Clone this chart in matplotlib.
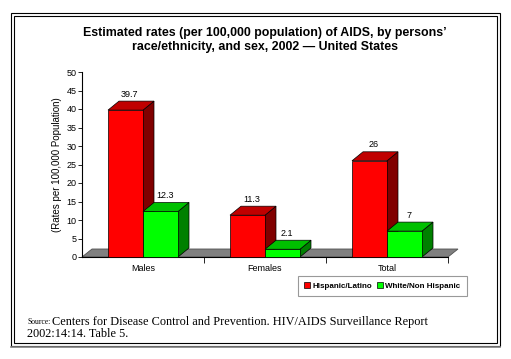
import matplotlib.pyplot as plt
from matplotlib.patches import Polygon, Rectangle
from matplotlib.lines import Line2D

# ── data ──────────────────────────────────────────────────────────────────────
categories = ["Males", "Females", "Total"]
hispanic   = [39.7, 11.3, 26]
white      = [12.3, 2.1, 7]
series     = ["Hispanic/Latino", "White/Non Hispanic"]

TITLE = ("Estimated rates (per 100,000 population) of AIDS, by persons\u2019\n"
         "race/ethnicity, and sex, 2002 \u2014 United States")
YLABEL = "(Rates per 100,000 Population)"

# ── styling ───────────────────────────────────────────────────────────────────
FRONT = ["#FF0000", "#00FF00"]
TOP   = ["#C00000", "#00C000"]
SIDE  = ["#800000", "#008000"]
FLOOR = "#808080"
BAR_W = 35 / 122          # bar width in category units
DX, DY = 11 / 122, 9 / 3.7  # 3-D depth offset (category units, value units)
FDX, FDY = 10 / 122, 8 / 3.7

plt.rcParams["font.family"] = ["Liberation Sans", "DejaVu Sans"]

W, H = 511, 359
fig = plt.figure(figsize=(W / 100, H / 100), dpi=100)
ax = fig.add_axes([82 / W, 1 - 257 / H, 366 / W, 185 / H])
ax.set_xlim(0, 3)
ax.set_ylim(0, 50)
ax.patch.set_visible(False)
for s in ("top", "right", "bottom"):
    ax.spines[s].set_visible(False)
ax.spines["left"].set_linewidth(0.8)


def box3d(x0, w, h, k):
    """Front, top and side faces of a pseudo-3D bar."""
    lw, ec = 0.5, "black"
    side = Polygon([(x0 + w, 0), (x0 + w + DX, DY), (x0 + w + DX, h + DY), (x0 + w, h)],
                   fc=SIDE[k], ec=ec, lw=lw, clip_on=False, zorder=3)
    top = Polygon([(x0, h), (x0 + DX, h + DY), (x0 + w + DX, h + DY), (x0 + w, h)],
                  fc=TOP[k], ec=ec, lw=lw, clip_on=False, zorder=3)
    front = Rectangle((x0, 0), w, h, fc=FRONT[k], ec=ec, lw=lw, clip_on=False, zorder=3)
    for p in (side, top, front):
        ax.add_patch(p)


# floor
ax.add_patch(Polygon([(0, 0), (3, 0), (3 + FDX, FDY), (FDX, FDY)],
                     fc=FLOOR, ec="#505050", lw=0.6, clip_on=False, zorder=1))
ax.plot([0, 3], [0, 0], color="black", lw=0.8, clip_on=False, zorder=2)

for i in range(len(categories)):
    c = i + 0.5
    for k, vals in enumerate((hispanic, white)):
        x0 = c - BAR_W if k == 0 else c
        box3d(x0, BAR_W, vals[i], k)
        ax.text(x0 + BAR_W / 2 + 0.035, vals[i] + 4.3, f"{vals[i]:g}",
                ha="center", va="center", fontsize=6.5, zorder=4)

# axes ticks
ax.set_yticks(range(0, 51, 5))
ax.tick_params(axis="y", direction="out", length=3, width=0.6, labelsize=6.5, pad=1)
ax.set_xticks([1, 2, 3], ["", "", ""])
ax.tick_params(axis="x", which="major", direction="out", length=4, width=0.6)
ax.set_xticks([0.5, 1.5, 2.5], categories, minor=True)
ax.tick_params(axis="x", which="minor", length=0, labelsize=6.5, pad=5)
ax.set_ylabel(YLABEL, fontsize=7, labelpad=3)

# title
fig.text(265 / W, 1 - 40 / H, TITLE, ha="center", va="center", fontsize=8.9,
         fontweight="bold", linespacing=1.2)

# legend
handles = [Line2D([], [], ls="none", marker="s", ms=5, mfc=FRONT[k], mec="black", mew=0.5)
           for k in range(2)]
leg = fig.legend(handles, series, loc="center",
                 bbox_to_anchor=((298 + 467) / 2 / W, 1 - 286 / H),
                 ncol=2, fontsize=5.8, frameon=True, fancybox=False,
                 handlelength=0.6, handletextpad=0.35, columnspacing=0.7,
                 borderpad=0.8, borderaxespad=0)
leg.get_frame().set_edgecolor("#808080")
leg.get_frame().set_linewidth(0.8)
for t in leg.get_texts():
    t.set_fontweight("bold")

# source
fig.text(27 / W, 1 - 322 / H, "Source:", ha="left", va="center", fontsize=5.5,
         family="Liberation Serif")
fig.text(52 / W, 1 - 322 / H,
         "Centers for Disease Control and Prevention. HIV/AIDS Surveillance Report",
         ha="left", va="center", fontsize=8.8, family="Liberation Serif")
fig.text(27 / W, 1 - 334 / H, "2002:14:14. Table 5.", ha="left", va="center",
         fontsize=8.8, family="Liberation Serif")

# double border frame
for (x0, y0, x1, y1, col) in [(11, 13, 500, 346, "black"), (14, 16, 497, 343, "black")]:
    fig.add_artist(Rectangle((x0 / W, 1 - y1 / H), (x1 - x0) / W, (y1 - y0) / H,
                             transform=fig.transFigure, fill=False, ec=col, lw=0.8))
fig.add_artist(Line2D([11 / W, 500 / W], [1 - 346.5 / H] * 2, transform=fig.transFigure,
                      color="#808080", lw=1.2))

fig.savefig("out.png", dpi=100)
